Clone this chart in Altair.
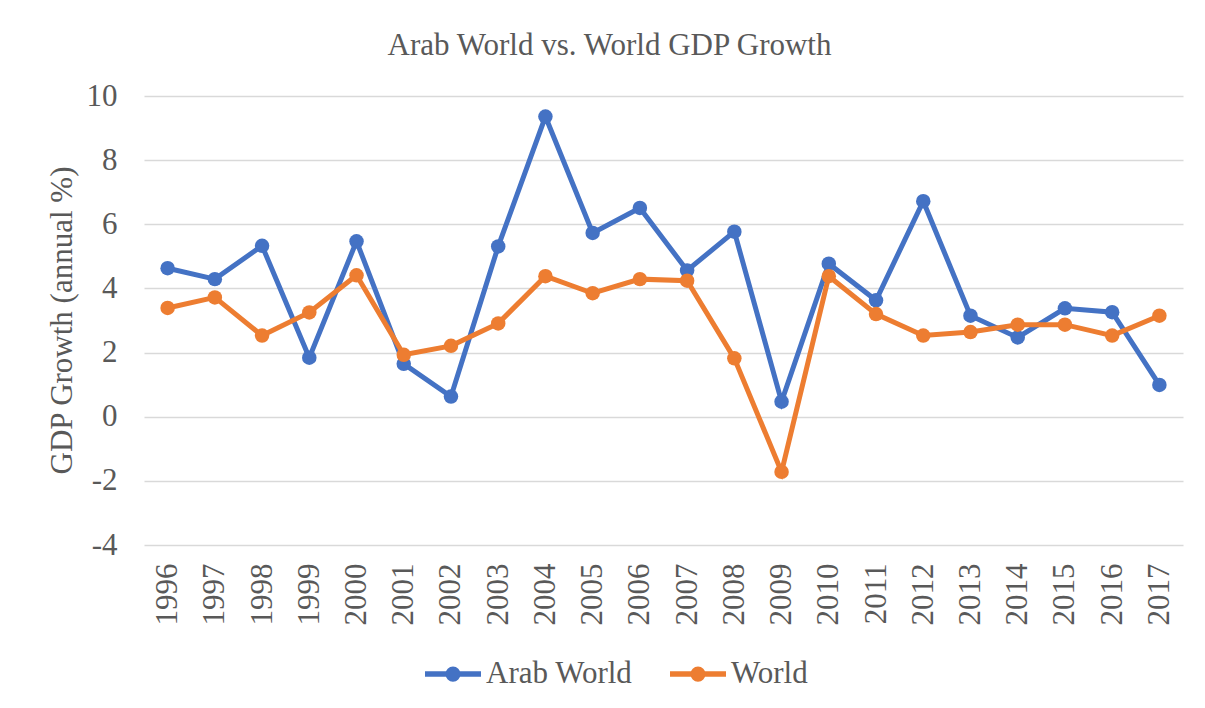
import altair as alt
import pandas as pd

years = [str(y) for y in range(1996, 2018)]
arab_world = [4.63, 4.29, 5.33, 1.84, 5.47, 1.65, 0.63, 5.31, 9.36, 5.73, 6.51,
              4.56, 5.77, 0.47, 4.77, 3.63, 6.72, 3.15, 2.47, 3.38, 3.26, 0.99]
world = [3.39, 3.72, 2.53, 3.25, 4.41, 1.93, 2.21, 2.91, 4.38, 3.85, 4.29,
         4.24, 1.82, -1.72, 4.38, 3.20, 2.53, 2.64, 2.87, 2.87, 2.53, 3.15]
series_names = ["Arab World", "World"]
series_colors = ["#4472C4", "#ED7D31"]
y_ticks = [-4, -2, 0, 2, 4, 6, 8, 10]

rows = []
for name, vals in zip(series_names, [arab_world, world]):
    for yr, v in zip(years, vals):
        rows.append({"Year": yr, "Series": name, "Growth": v})
df = pd.DataFrame(rows)

FONT = "Liberation Serif"
TXT = "#595959"

legend_path = ("M-1,0L1,0"
               "M-0.17,0A0.17,0.17,0,1,0,0.17,0A0.17,0.17,0,1,0,-0.17,0Z")

x = alt.X("Year:O", sort=years, scale=alt.Scale(padding=0.5),
          axis=alt.Axis(title=None, labelAngle=270, labelFont=FONT, labelFontSize=31,
                        labelColor=TXT, labelPadding=18, ticks=False, domain=False,
                        grid=False))
y = alt.Y("Growth:Q", scale=alt.Scale(domain=[-4, 10], nice=False),
          axis=alt.Axis(title="GDP Growth (annual %)", values=y_ticks, labelFont=FONT,
                        labelExpr="'' + datum.value",
                        labelFontSize=31, labelColor=TXT, labelPadding=27,
                        ticks=False, domain=False, gridColor="#D9D9D9", gridWidth=1.3,
                        titleFont=FONT, titleFontSize=31, titleColor=TXT,
                        titleFontWeight="normal", titleAngle=270, titleX=-82,
                        titleY=224, titleAlign="center", titleBaseline="middle"))
legend = alt.Legend(title=None, orient="none", direction="horizontal",
                    legendX=278, legendY=547, labelFont=FONT,
                    labelFontSize=31, labelColor=TXT,
                    symbolType=legend_path, symbolSize=3136,
                    symbolStrokeWidth=5.5, labelOffset=2,
                    columnPadding=26, padding=0)
scale = alt.Scale(domain=series_names, range=series_colors)

lines = alt.Chart(df).mark_line(strokeWidth=5).encode(
    x=x, y=y, order=alt.Order("Year:O"),
    stroke=alt.Stroke("Series:N", sort=series_names, scale=scale, legend=legend))
points = alt.Chart(df).mark_point(filled=True, size=210, opacity=1).encode(
    x=x, y=y,
    fill=alt.Fill("Series:N", sort=series_names, scale=scale, legend=legend))

chart = alt.layer(lines, points).properties(
    width=1039, height=449,
    background="white",
    title=alt.TitleParams("Arab World vs. World GDP Growth", font=FONT, fontSize=31,
                          color=TXT, fontWeight="normal", anchor="middle", dx=-54,
                          offset=18),
    autosize=alt.AutoSizeParams(type="none"),
    padding={"left": 136, "top": 88, "right": 14, "bottom": 155},
).configure_view(stroke=None)

chart.save("out.html", embed_options={"renderer": "svg", "actions": False})
